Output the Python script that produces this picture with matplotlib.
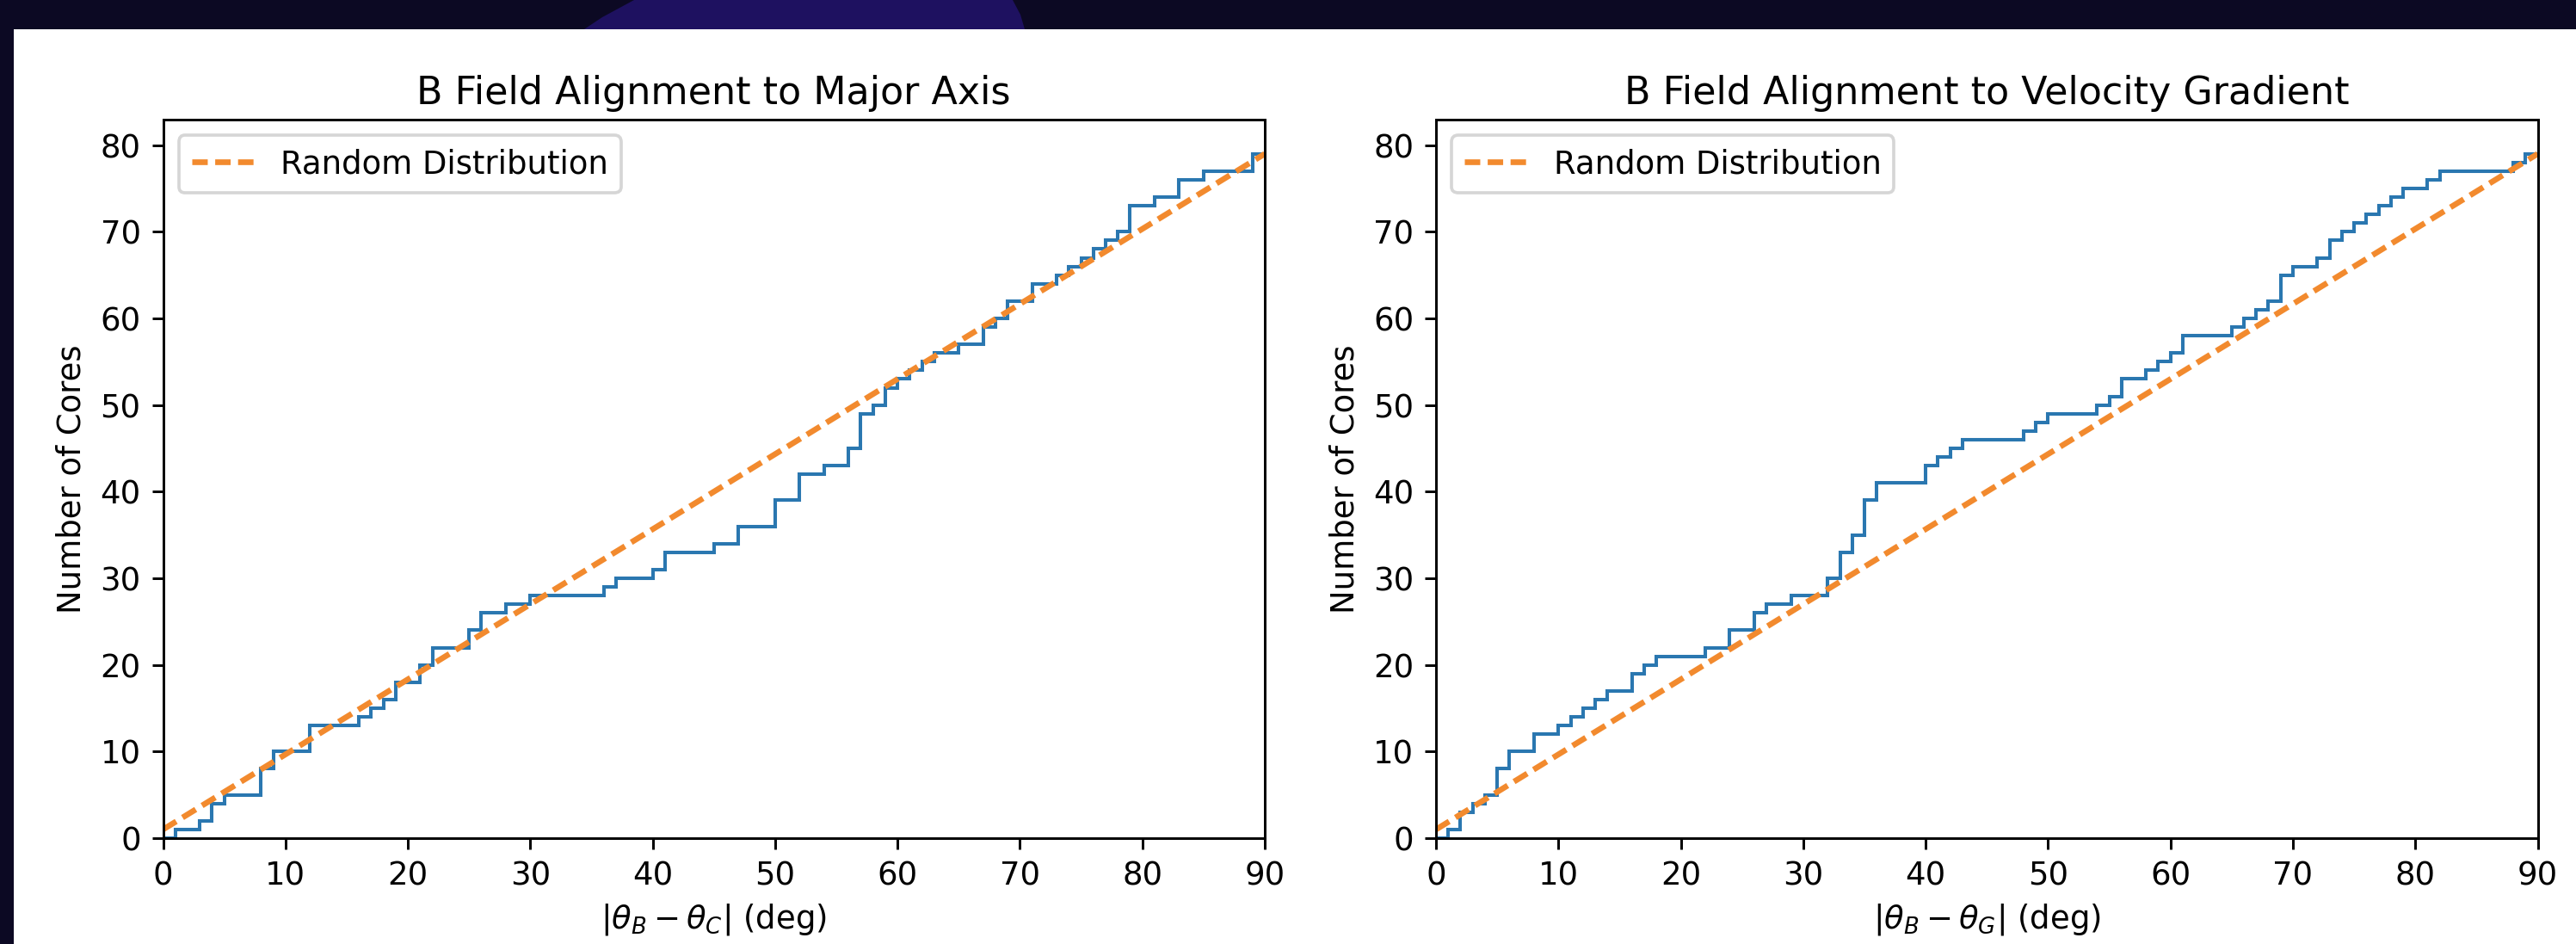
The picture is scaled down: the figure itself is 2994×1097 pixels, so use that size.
import numpy as np
import matplotlib
matplotlib.use("Agg")
import matplotlib.pyplot as plt
from matplotlib.patches import Rectangle, Polygon

# ---------------- data ----------------
# angle differences of individual cores (deg); each falls in a 1-degree bin
major_angles = [
    1.5, 3.5, 4.5, 4.5, 5.5, 8.5, 8.5, 8.5, 9.5, 9.5,
    12.5, 12.5, 12.5, 16.5, 17.5, 18.5, 19.5, 19.5, 21.5, 21.5,
    22.5, 22.5, 25.5, 25.5, 26.5, 26.5, 28.5, 30.5, 36.5, 37.5,
    40.5, 41.5, 41.5, 45.5, 47.5, 47.5, 50.5, 50.5, 50.5, 52.5,
    52.5, 52.5, 54.5, 56.5, 56.5, 57.5, 57.5, 57.5, 57.5, 58.5,
    59.5, 59.5, 60.5, 61.5, 62.5, 63.5, 65.5, 67.5, 67.5, 68.5,
    69.5, 69.5, 71.5, 71.5, 73.5, 74.5, 75.5, 76.5, 77.5, 78.5,
    79.5, 79.5, 79.5, 81.5, 83.5, 83.5, 85.5, 89.5, 89.5,
]
gradient_angles = [
    1.5, 2.5, 2.5, 3.5, 4.5, 5.5, 5.5, 5.5, 6.5, 6.5,
    8.5, 8.5, 10.5, 11.5, 12.5, 13.5, 14.5, 16.5, 16.5, 17.5,
    18.5, 22.5, 24.5, 24.5, 26.5, 26.5, 27.5, 29.5, 32.5, 32.5,
    33.5, 33.5, 33.5, 34.5, 34.5, 35.5, 35.5, 35.5, 35.5, 36.5,
    36.5, 40.5, 40.5, 41.5, 42.5, 43.5, 48.5, 49.5, 50.5, 54.5,
    55.5, 56.5, 56.5, 58.5, 59.5, 60.5, 61.5, 61.5, 65.5, 66.5,
    67.5, 68.5, 69.5, 69.5, 69.5, 70.5, 72.5, 73.5, 73.5, 74.5,
    75.5, 76.5, 77.5, 78.5, 79.5, 81.5, 82.5, 88.5, 89.5,
]
bin_edges = np.arange(0, 91, 1)
titles = ["B Field Alignment to Major Axis", "B Field Alignment to Velocity Gradient"]
xlabels = [r"$|\theta_B - \theta_C|$ (deg)", r"$|\theta_B - \theta_G|$ (deg)"]
ylabel = "Number of Cores"
random_label = "Random Distribution"
x_ticks = list(range(0, 91, 10))
y_ticks = list(range(0, 81, 10))

# ---------------- figure ----------------
W, H = 2994, 1097
DPI = 266
BG = "#0c0923"
PURPLE = "#1e1160"

plt.rcParams["font.family"] = ["DejaVu Sans"]
fig = plt.figure(figsize=(W / DPI, H / DPI), dpi=DPI, facecolor=BG)


def px(x, y):
    return (x / W, 1 - y / H)


# purple shape in the dark top band
blob = Polygon([px(679, 34), px(700, 20), px(737, 0), px(1177, 0),
                px(1186, 17), px(1191, 34)],
               closed=True, transform=fig.transFigure, facecolor=PURPLE,
               edgecolor="none", zorder=-10)
fig.add_artist(blob)
# white panel
panel = Rectangle(px(16, 1097), 1 - 16 / W, 1 - 34 / H, transform=fig.transFigure,
                  facecolor="white", edgecolor="none", zorder=-9)
fig.add_artist(panel)

ax_left_px = [189.5, 1669]
ax_w_px = 1280.5
ax_top_px, ax_bot_px = 139, 974

for i, angles in enumerate([major_angles, gradient_angles]):
    x0 = ax_left_px[i]
    ax = fig.add_axes([x0 / W, 1 - ax_bot_px / H, ax_w_px / W, (ax_bot_px - ax_top_px) / H])
    n = len(angles)
    counts, edges = np.histogram(angles, bins=bin_edges)
    cum = np.cumsum(counts)
    ax.stairs(cum, edges, baseline=None, color="#2a77b0", lw=1.1)
    ax.plot(np.linspace(0, 90, n), np.arange(1, n + 1), color="#f28a2e", lw=1.8,
            linestyle=(0, (2.7, 1.3)), label=random_label)
    ax.set_xlim(0, 90)
    ax.set_ylim(0, n * 1.05)
    ax.set_xticks(x_ticks)
    ax.set_yticks(y_ticks)
    ax.set_title(titles[i], fontsize=12, pad=5)
    ax.set_xlabel(xlabels[i], fontsize=10, labelpad=3)
    ax.set_ylabel(ylabel, fontsize=10)
    ax.tick_params(labelsize=10)
    ax.legend(loc="upper left", fontsize=10)

fig.savefig("out.png", dpi=DPI, facecolor=BG)
